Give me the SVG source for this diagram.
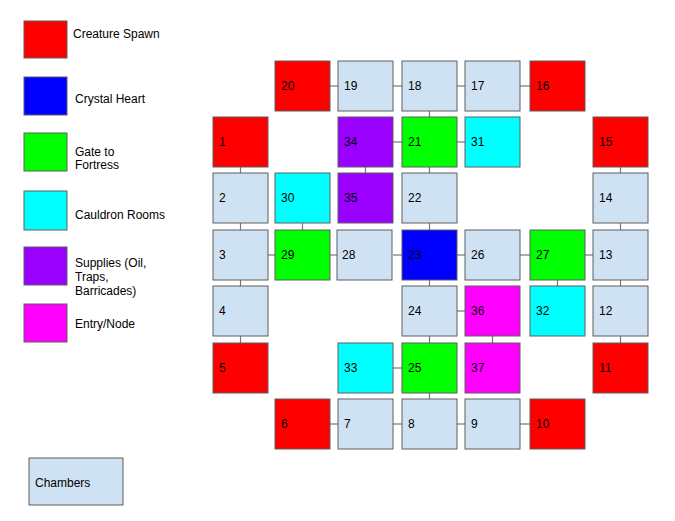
<svg xmlns="http://www.w3.org/2000/svg" width="675" height="521" viewBox="0 0 675 521">
<style>
rect{stroke:#5f5f5f;stroke-width:1}
#bg{stroke:none;fill:#fff}
text{font-family:"Liberation Sans",Arial,sans-serif;font-size:12px;fill:#000}
.ch{fill:#cfe2f3}.sp{fill:#ff0000}.ht{fill:#0000ff}.gt{fill:#00ff00}.cr{fill:#00ffff}.su{fill:#9900ff}.en{fill:#ff00ff}
#connectors line{stroke:#777;stroke-width:1.2}
</style>
<rect id="bg" width="675" height="521"/>
<g id="legend">
<g id="leg-spawn"><rect class="sp" x="24" y="21" width="43" height="37"/><text x="73" y="38">Creature Spawn</text></g>
<g id="leg-heart"><rect class="ht" x="24" y="77" width="43" height="38"/><text x="75" y="103">Crystal Heart</text></g>
<g id="leg-gate"><rect class="gt" x="24" y="133" width="43" height="38"/><text x="75" y="156">Gate to</text><text x="75" y="169">Fortress</text></g>
<g id="leg-cauldron"><rect class="cr" x="24" y="191" width="43" height="39"/><text x="75" y="219">Cauldron Rooms</text></g>
<g id="leg-supplies"><rect class="su" x="24" y="247" width="43" height="38"/><text x="75" y="267">Supplies (Oil,</text><text x="75" y="281">Traps,</text><text x="75" y="295">Barricades)</text></g>
<g id="leg-entry"><rect class="en" x="24" y="304" width="43" height="38"/><text x="75" y="328">Entry/Node</text></g>
<g id="leg-chambers"><rect class="ch" x="29" y="458" width="94" height="47"/><text x="35" y="487">Chambers</text></g>
</g>
<g id="connectors">
<line x1="330" y1="86" x2="338" y2="86"/>
<line x1="393" y1="86" x2="402" y2="86"/>
<line x1="457" y1="86" x2="465" y2="86"/>
<line x1="520" y1="86" x2="530" y2="86"/>
<line x1="393" y1="142" x2="402" y2="142"/>
<line x1="457" y1="142" x2="465" y2="142"/>
<line x1="268" y1="255" x2="275" y2="255"/>
<line x1="330" y1="255" x2="338" y2="255"/>
<line x1="393" y1="255" x2="402" y2="255"/>
<line x1="457" y1="255" x2="465" y2="255"/>
<line x1="520" y1="255" x2="530" y2="255"/>
<line x1="585" y1="255" x2="593" y2="255"/>
<line x1="457" y1="311" x2="465" y2="311"/>
<line x1="393" y1="368" x2="402" y2="368"/>
<line x1="330" y1="424" x2="338" y2="424"/>
<line x1="393" y1="424" x2="402" y2="424"/>
<line x1="457" y1="424" x2="465" y2="424"/>
<line x1="520" y1="424" x2="530" y2="424"/>
<line x1="429.5" y1="111" x2="429.5" y2="117"/>
<line x1="365.5" y1="167" x2="365.5" y2="173"/>
<line x1="429.5" y1="167" x2="429.5" y2="173"/>
<line x1="240.5" y1="167" x2="240.5" y2="173"/>
<line x1="240.5" y1="223" x2="240.5" y2="230"/>
<line x1="240.5" y1="280" x2="240.5" y2="286"/>
<line x1="240.5" y1="336" x2="240.5" y2="343"/>
<line x1="302.5" y1="223" x2="302.5" y2="230"/>
<line x1="620.5" y1="167" x2="620.5" y2="173"/>
<line x1="620.5" y1="223" x2="620.5" y2="230"/>
<line x1="620.5" y1="280" x2="620.5" y2="286"/>
<line x1="620.5" y1="336" x2="620.5" y2="343"/>
<line x1="429.5" y1="223" x2="429.5" y2="230"/>
<line x1="429.5" y1="280" x2="429.5" y2="286"/>
<line x1="429.5" y1="336" x2="429.5" y2="343"/>
<line x1="429.5" y1="393" x2="429.5" y2="399"/>
<line x1="557.5" y1="280" x2="557.5" y2="286"/>
<line x1="492.5" y1="336" x2="492.5" y2="343"/>
</g>
<g id="nodes">
<g id="n20"><rect class="sp" x="275" y="61" width="55" height="50"/><text x="281" y="90">20</text></g>
<g id="n19"><rect class="ch" x="338" y="61" width="55" height="50"/><text x="344" y="90">19</text></g>
<g id="n18"><rect class="ch" x="402" y="61" width="55" height="50"/><text x="408" y="90">18</text></g>
<g id="n17"><rect class="ch" x="465" y="61" width="55" height="50"/><text x="471" y="90">17</text></g>
<g id="n16"><rect class="sp" x="530" y="61" width="55" height="50"/><text x="536" y="90">16</text></g>
<g id="n1"><rect class="sp" x="213" y="117" width="55" height="50"/><text x="219" y="146">1</text></g>
<g id="n34"><rect class="su" x="338" y="117" width="55" height="50"/><text x="344" y="146">34</text></g>
<g id="n21"><rect class="gt" x="402" y="117" width="55" height="50"/><text x="408" y="146">21</text></g>
<g id="n31"><rect class="cr" x="465" y="117" width="55" height="50"/><text x="471" y="146">31</text></g>
<g id="n15"><rect class="sp" x="593" y="117" width="55" height="50"/><text x="599" y="146">15</text></g>
<g id="n2"><rect class="ch" x="213" y="173" width="55" height="50"/><text x="219" y="202">2</text></g>
<g id="n30"><rect class="cr" x="275" y="173" width="55" height="50"/><text x="281" y="202">30</text></g>
<g id="n35"><rect class="su" x="338" y="173" width="55" height="50"/><text x="344" y="202">35</text></g>
<g id="n22"><rect class="ch" x="402" y="173" width="55" height="50"/><text x="408" y="202">22</text></g>
<g id="n14"><rect class="ch" x="593" y="173" width="55" height="50"/><text x="599" y="202">14</text></g>
<g id="n3"><rect class="ch" x="213" y="230" width="55" height="50"/><text x="219" y="259">3</text></g>
<g id="n29"><rect class="gt" x="275" y="230" width="55" height="50"/><text x="281" y="259">29</text></g>
<g id="n28"><rect class="ch" x="337" y="230" width="55" height="50"/><text x="342" y="259">28</text></g>
<g id="n23"><rect class="ht" x="402" y="230" width="55" height="50"/><text x="408" y="259">23</text></g>
<g id="n26"><rect class="ch" x="465" y="230" width="55" height="50"/><text x="471" y="259">26</text></g>
<g id="n27"><rect class="gt" x="530" y="230" width="55" height="50"/><text x="536" y="259">27</text></g>
<g id="n13"><rect class="ch" x="593" y="230" width="55" height="50"/><text x="599" y="259">13</text></g>
<g id="n4"><rect class="ch" x="213" y="286" width="55" height="50"/><text x="219" y="315">4</text></g>
<g id="n24"><rect class="ch" x="402" y="286" width="55" height="50"/><text x="408" y="315">24</text></g>
<g id="n36"><rect class="en" x="465" y="286" width="55" height="50"/><text x="471" y="315">36</text></g>
<g id="n32"><rect class="cr" x="530" y="286" width="55" height="50"/><text x="536" y="315">32</text></g>
<g id="n12"><rect class="ch" x="593" y="286" width="55" height="50"/><text x="599" y="315">12</text></g>
<g id="n5"><rect class="sp" x="213" y="343" width="55" height="50"/><text x="219" y="372">5</text></g>
<g id="n33"><rect class="cr" x="338" y="343" width="55" height="50"/><text x="344" y="372">33</text></g>
<g id="n25"><rect class="gt" x="402" y="343" width="55" height="50"/><text x="408" y="372">25</text></g>
<g id="n37"><rect class="en" x="465" y="343" width="55" height="50"/><text x="471" y="372">37</text></g>
<g id="n11"><rect class="sp" x="593" y="343" width="55" height="50"/><text x="599" y="372">11</text></g>
<g id="n6"><rect class="sp" x="275" y="399" width="55" height="50"/><text x="281" y="428">6</text></g>
<g id="n7"><rect class="ch" x="338" y="399" width="55" height="50"/><text x="344" y="428">7</text></g>
<g id="n8"><rect class="ch" x="402" y="399" width="55" height="50"/><text x="408" y="428">8</text></g>
<g id="n9"><rect class="ch" x="465" y="399" width="55" height="50"/><text x="471" y="428">9</text></g>
<g id="n10"><rect class="sp" x="530" y="399" width="55" height="50"/><text x="536" y="428">10</text></g>
</g>
</svg>
